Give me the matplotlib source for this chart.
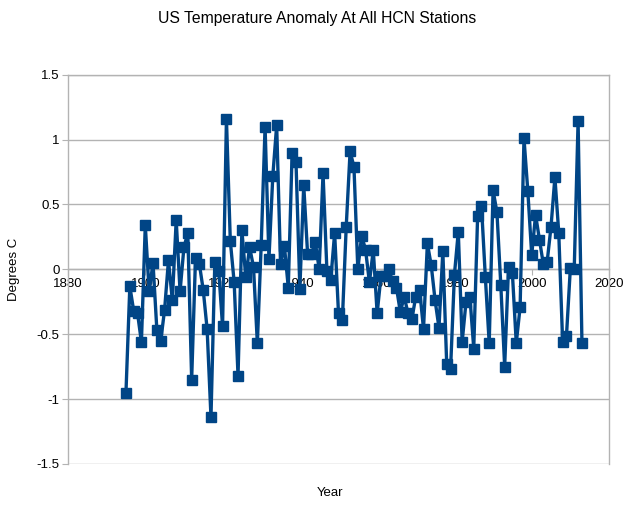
import matplotlib
matplotlib.use("Agg")
import matplotlib.pyplot as plt
from matplotlib.ticker import FixedLocator, FuncFormatter

plt.rcParams['font.family'] = ['Liberation Sans', 'DejaVu Sans']
plt.rcParams['axes.unicode_minus'] = False

start_year = 1895
anomaly = [
    -0.95, -0.13, -0.32, -0.34, -0.56, 0.34, -0.17, 0.05, -0.47, -0.55,   # 1895-1904
    -0.31, 0.07, -0.24, 0.38, -0.17, 0.17, 0.28, -0.85, 0.09, 0.04,       # 1905-1914
    -0.16, -0.46, -1.14, 0.06, -0.01, -0.44, 1.16, 0.22, -0.10, -0.82,    # 1915-1924
    0.30, -0.06, 0.17, 0.02, -0.57, 0.19, 1.10, 0.08, 0.72, 1.11,         # 1925-1934
    0.04, 0.18, -0.14, 0.90, 0.83, -0.15, 0.65, 0.12, 0.12, 0.21,         # 1935-1944
    0.00, 0.74, -0.01, -0.08, 0.28, -0.34, -0.39, 0.33, 0.91, 0.79,       # 1945-1954
    0.00, 0.26, 0.15, -0.10, 0.15, -0.34, -0.05, -0.05, 0.00, -0.09,      # 1955-1964
    -0.14, -0.33, -0.21, -0.34, -0.38, -0.21, -0.16, -0.46, 0.20, 0.03,   # 1965-1974
    -0.24, -0.45, 0.14, -0.73, -0.77, -0.04, 0.29, -0.56, -0.25, -0.21,   # 1975-1984
    -0.61, 0.41, 0.49, -0.06, -0.57, 0.61, 0.44, -0.12, -0.75, 0.02,      # 1985-1994
    -0.03, -0.57, -0.29, 1.01, 0.60, 0.11, 0.42, 0.23, 0.04, 0.06,        # 1995-2004
    0.33, 0.71, 0.28, -0.56, -0.51, 0.01, 0.00, 1.14, -0.57,              # 2005-2013
]
years = list(range(start_year, start_year + len(anomaly)))

x_ticks = [1880, 1900, 1920, 1940, 1960, 1980, 2000, 2020]
y_ticks = [-1.5, -1, -0.5, 0, 0.5, 1, 1.5]

title = "US Temperature Anomaly At All HCN Stations"
xlabel = "Year"
ylabel = "Degrees C"

line_color = "#004586"
grid_color = "#b3b3b3"

fig = plt.figure(figsize=(6.29, 5.08), dpi=100)
ax = fig.add_axes([68 / 629, 1 - 464 / 508, (609 - 68) / 629, (464 - 74.7) / 508])

ax.plot(years, anomaly, color=line_color, linewidth=2.4, marker='s',
        markersize=7, markerfacecolor=line_color, markeredgecolor=line_color,
        zorder=3, clip_on=False)

ax.set_xlim(1880, 2020)
ax.set_ylim(-1.5, 1.5)

ax.yaxis.set_major_locator(FixedLocator(y_ticks))
ax.yaxis.set_major_formatter(FuncFormatter(lambda v, p: f"{v:g}"))
ax.xaxis.set_major_locator(FixedLocator(x_ticks))
ax.xaxis.set_major_formatter(FuncFormatter(lambda v, p: f"{int(v)}"))

for yv in y_ticks:
    ax.axhline(yv, color=grid_color, linewidth=1.0, zorder=1)

for side in ['left', 'right', 'top', 'bottom']:
    ax.spines[side].set_color(grid_color)
    ax.spines[side].set_linewidth(1.0)
ax.spines['bottom'].set_position(('data', 0))

ax.tick_params(axis='y', direction='out', length=4, color=grid_color,
               labelsize=9.5, labelcolor='black', pad=2)
ax.tick_params(axis='x', direction='out', length=4, color=grid_color,
               labelsize=9.5, labelcolor='black', pad=2)

fig.text(317 / 629, 1 - 19 / 508, title, ha='center', va='center', fontsize=11.3)
fig.text(330 / 629, 1 - 493 / 508, xlabel, ha='center', va='center', fontsize=9.5)
fig.text(14 / 629, 1 - 269 / 508, ylabel, ha='center', va='center',
         rotation=90, fontsize=9.5)

fig.savefig("out.png", dpi=100)
